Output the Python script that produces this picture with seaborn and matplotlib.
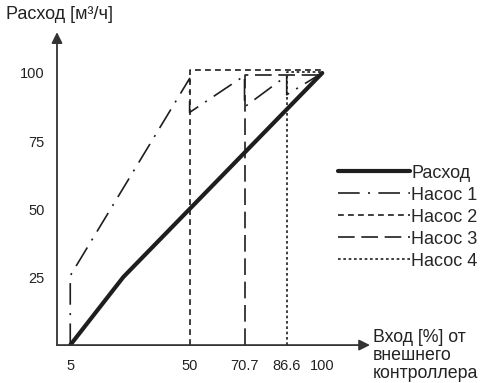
import pandas as pd
import matplotlib
matplotlib.use('Agg')
import matplotlib.pyplot as plt
import seaborn as sns

# Données
raskhod_x = [5, 25, 100]
raskhod_y = [0, 25, 100]
nasos1_x = [5, 5, 50, 50, 70.7, 70.7, 86.6, 86.6, 100]
nasos1_y = [0, 25.5, 98, 85.5, 99, 87.5, 99, 92, 100]
nasos2_x = [50, 50, 100, 100]
nasos2_y = [0, 101, 101, 100]
nasos3_x = [70.7, 70.7, 100]
nasos3_y = [0, 99.3, 99.3]
nasos4_x = [86.6, 86.6, 100]
nasos4_y = [0, 100.3, 100.3]

x_ticks = [5, 50, 70.7, 86.6, 100]
x_tick_labels = ['5', '50', '70.7', '86.6', '100']
y_ticks = [25, 50, 75, 100]

series = [
    ('Расход', raskhod_x, raskhod_y, dict(lw=3.0, ls='-')),
    ('Насос 1', nasos1_x, nasos1_y, dict(lw=1.2, ls=(0, (13, 5, 1.2, 5)))),
    ('Насос 2', nasos2_x, nasos2_y, dict(lw=1.2, ls=(0, (3.5, 2.5)))),
    ('Насос 3', nasos3_x, nasos3_y, dict(lw=1.2, ls=(0, (10, 4)))),
    ('Насос 4', nasos4_x, nasos4_y, dict(lw=1.2, ls=(0, (1.6, 1.6)))),
]

sns.set_style('white')
plt.rcParams['font.family'] = ['Liberation Sans', 'DejaVu Sans']

fig = plt.figure(figsize=(4.83, 3.83), dpi=100)
ax = fig.add_axes([0.118, 0.099, 0.648, 0.817])
col = '#1e1e1e'

for name, xs, ys, st in series:
    df = pd.DataFrame({'x': xs, 'y': ys})
    sns.lineplot(data=df, x='x', y='y', ax=ax, sort=False, estimator=None,
                 color=col, label=name, solid_joinstyle='miter', **st)

ax.set_xlim(0, 118)
ax.set_ylim(0, 115)
for s in ax.spines.values():
    s.set_visible(False)

# Axes avec flèches
arrow = dict(arrowstyle='-|>', mutation_scale=16, lw=1.3, color='#333333',
             shrinkA=0, shrinkB=0)
ax.annotate('', xy=(1, 0), xytext=(0, 0), xycoords='axes fraction', arrowprops=arrow)
ax.annotate('', xy=(0, 1), xytext=(0, 0), xycoords='axes fraction', arrowprops=arrow)

ax.set_xticks(x_ticks)
ax.set_xticklabels(x_tick_labels)
ax.set_yticks(y_ticks)
ax.tick_params(axis='both', length=0, labelsize=10.5, colors='#222222')
ax.tick_params(axis='x', pad=10)
ax.tick_params(axis='y', pad=9)
ax.set_xlabel('')
ax.set_ylabel('')

fig.text(0.012, 0.962, 'Расход [м³/ч]', fontsize=13, color='#222222', va='center')
fig.text(0.772, 0.003, 'Вход [%] от\nвнешнего\nконтроллера', fontsize=12.8,
         color='#222222', va='bottom', linespacing=1.08)

ax.legend(loc='upper left', bbox_to_anchor=(0.898, 0.577), frameon=False,
          handlelength=4.0, handletextpad=0.05, labelspacing=0.28,
          fontsize=13, borderaxespad=0, borderpad=0)

fig.savefig('out.png', dpi=100)
